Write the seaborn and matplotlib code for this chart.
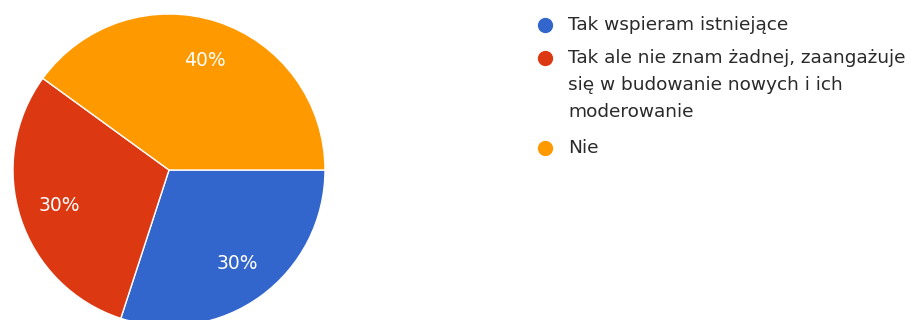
import matplotlib
matplotlib.use("Agg")
import matplotlib.pyplot as plt
import seaborn as sns
from matplotlib.lines import Line2D

# Dados do gráfico
categorias = ["Tak wspieram istniejące",
              "Tak ale nie znam żadnej, zaangażuje\nsię w budowanie nowych i ich\nmoderowanie",
              "Nie"]
valores = [30, 30, 40]
cores = ["#3366cc", "#dc3912", "#ff9900"]

sns.set_theme(style="white")
plt.rcParams["font.family"] = ["DejaVu Sans"]

W, H = 912, 320
fig = plt.figure(figsize=(W / 100, H / 100), dpi=100)
fig.patch.set_facecolor("white")

# Pizza (centro ~ (169,170) px, raio ~156 px)
cx, cy, r = 169, 170, 156
ax = fig.add_axes([(cx - r) / W, (H - cy - r) / H, 2 * r / W, 2 * r / H])
wedges, texts, autotexts = ax.pie(
    valores, colors=sns.color_palette(cores), startangle=0, counterclock=False,
    autopct="%1.0f%%", pctdistance=0.74,
    wedgeprops=dict(edgecolor="white", linewidth=1),
    textprops=dict(color="white", fontsize=13.5))
ax.set_xlim(-1, 1)
ax.set_ylim(-1, 1)
ax.set_aspect("equal")
ax.axis("off")

# Legenda manual (marcador alinhado com a primeira linha)
marker_x, text_x = 545, 568
marker_y = [25, 58, 148]
line_h = 27
for cat, cor, my in zip(categorias, cores, marker_y):
    fig.add_artist(Line2D([marker_x / W], [1 - my / H], marker="o", markersize=10,
                          markerfacecolor=cor, markeredgecolor=cor,
                          transform=fig.transFigure))
    for i, linha in enumerate(cat.split("\n")):
        fig.text(text_x / W, 1 - (my + i * line_h) / H, linha,
                 ha="left", va="center", fontsize=13.3, color="#2a2a2a")

fig.savefig("out.png", dpi=100, facecolor="white")
